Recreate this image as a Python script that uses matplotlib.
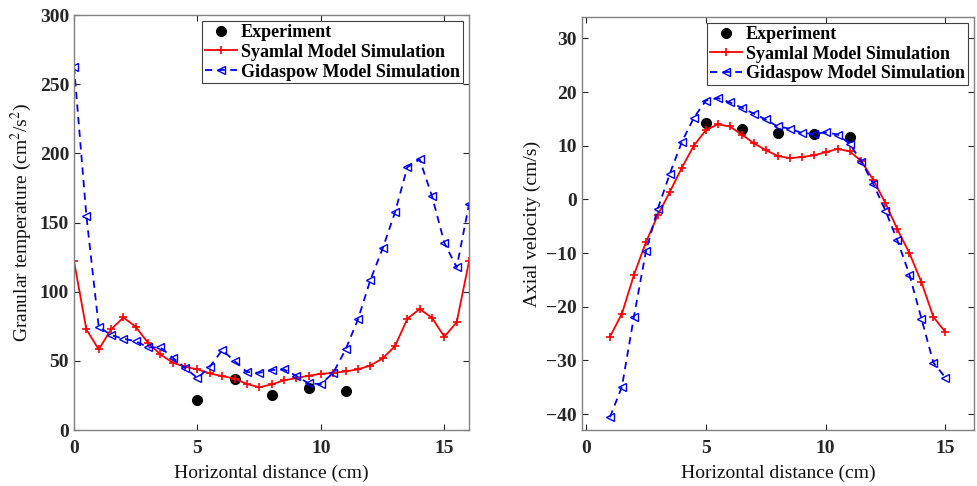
import numpy as np
import matplotlib
matplotlib.use("Agg")
from matplotlib import pyplot as plt

plt.rcParams['font.family'] = ['Liberation Serif', 'DejaVu Serif']
plt.rcParams['mathtext.fontset'] = 'stix'

# левая панель: гранулярная температура
x_left = np.arange(0, 16.01, 0.5)
syamlal_temp = [122, 72.8, 58.3, 72.8, 81.4, 74.7, 63, 54.7, 48.7, 45.8, 43.9,
                41, 39, 37.3, 33.3, 31, 33, 36, 37.6, 39.3, 40.7, 41.4, 42.4,
                43.9, 46.7, 51.8, 60.7, 80.5, 87.5, 81.2, 67.5, 78, 122]
gidaspow_temp = [262.7, 155, 74.7, 68.7, 66, 64.3, 59.8, 59.8, 52.3, 45, 37.6,
                 45.8, 57.8, 50, 42, 41.4, 43.4, 43.9, 39.3, 33.7, 33.3, 41.4,
                 58.3, 80, 108.4, 131.3, 157.4, 190, 195.7, 169, 135.4, 117.6, 163.4]
exp_x = [5, 6.5, 8, 9.5, 11]
exp_temp = [21.7, 36.9, 25.5, 30.4, 28.2]

# правая панель: осевая скорость
x_right = np.arange(1, 15.01, 0.5)
syamlal_vel = [-25.6, -21.3, -14.1, -8.0, -2.9, 1.4, 5.9, 10.0, 12.9, 14.0,
               13.6, 12.1, 10.5, 9.2, 8.1, 7.7, 7.9, 8.2, 8.8, 9.4, 9.0, 7.1,
               3.6, -0.7, -5.6, -10.0, -15.4, -21.9, -24.7]
gidaspow_vel = [-40.6, -34.9, -21.9, -9.7, -1.7, 4.8, 10.7, 15.2, 18.4, 18.9,
                18.1, 17.1, 16.0, 14.9, 13.6, 13.2, 12.4, 12.2, 12.5, 12.1,
                10.4, 7.05, 2.8, -2.1, -7.65, -14.0, -22.2, -30.4, -33.2]
exp_vel = [14.2, 13.1, 12.4, 12.2, 11.6]

labels = ["Experiment", "Syamlal Model Simulation", "Gidaspow Model Simulation"]


def draw(ax, xs, syam, gida, ey):
    ax.plot(exp_x, ey, 'o', color='black', markersize=7, label=labels[0])
    ax.plot(xs, syam, '-', color='#ff0000', lw=1.3, marker='+',
            markersize=6, markeredgewidth=1.2, label=labels[1])
    ax.plot(xs, gida, '--', color='#0000ff', lw=1.3, marker='<',
            markersize=6, markerfacecolor='none', markeredgewidth=1.0,
            dashes=(4, 3), label=labels[2])
    ax.tick_params(direction='in', top=True, right=True, length=4,
                   labelsize=14, colors='#262626', width=0.8)
    ax.tick_params(axis='x', pad=7)
    for sp in ax.spines.values():
        sp.set_color('#808080')
        sp.set_linewidth(1.0)
    ax.set_xlabel("Horizontal distance (cm)", fontsize=14, color='#111111',
                  labelpad=6)
    leg = ax.legend(loc='upper right', prop={'weight': 'bold', 'size': 13},
                    handlelength=1.8, handletextpad=0.2, borderpad=0.15,
                    labelspacing=0.15, borderaxespad=0.35, fancybox=False,
                    framealpha=1)
    leg.get_frame().set_edgecolor('#404040')
    leg.get_frame().set_linewidth(0.8)


fig = plt.figure(figsize=(9.78, 4.86), dpi=100)

ax1 = fig.add_axes([0.0757, 0.115, 0.4039, 0.854])
draw(ax1, x_left, syamlal_temp, gidaspow_temp, exp_temp)
ax1.set_xlim(0, 16)
ax1.set_ylim(0, 300)
ax1.set_xticks([0, 5, 10, 15])
ax1.set_yticks(range(0, 301, 50))
for lab in ax1.get_xticklabels() + ax1.get_yticklabels():
    lab.set_fontweight('bold')
ax1.set_ylabel("Granular temperature (cm$^2$/s$^2$)", fontsize=14, color='#111111')

ax2 = fig.add_axes([0.595, 0.115, 0.401, 0.85])
draw(ax2, x_right, syamlal_vel, gidaspow_vel, exp_vel)
ax2.set_xlim(-0.17, 16.2)
ax2.set_ylim(-43, 34)
ax2.set_xticks([0, 5, 10, 15])
ax2.set_yticks(range(-40, 31, 10))
for lab in ax2.get_xticklabels() + ax2.get_yticklabels():
    lab.set_fontweight('bold')
ax2.set_ylabel("Axial velocity (cm/s)", fontsize=14, color='#111111')

plt.savefig("out.png", dpi=100)
